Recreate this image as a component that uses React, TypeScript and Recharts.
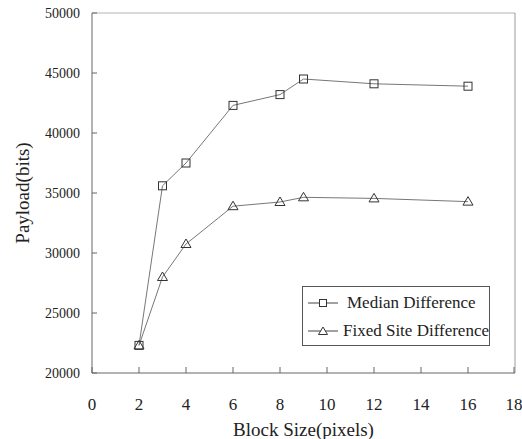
import { LineChart, Line, XAxis, YAxis, ReferenceLine } from "recharts";

const blockSizes = [2, 3, 4, 6, 8, 9, 12, 16];
const medianDiff = [22300, 35600, 37500, 42300, 43200, 44500, 44100, 43900];
const fixedSiteDiff = [22300, 28000, 30750, 33900, 34250, 34640, 34550, 34280];
const xTicks = [0, 2, 4, 6, 8, 10, 12, 14, 16, 18];
const yTicks = [20000, 25000, 30000, 35000, 40000, 45000, 50000];
const seriesNames = ["Median Difference", "Fixed Site Difference"];

const data = blockSizes.map((b, i) => ({
  size: b,
  median: medianDiff[i],
  fixed: fixedSiteDiff[i],
}));

const font = "'Liberation Serif', 'DejaVu Serif', serif";
const ink = "#333";

const SquareDot = (props: any) => {
  const { cx, cy, index } = props;
  if (cx == null || cy == null) return null;
  return <rect key={"sq" + index} x={cx - 4} y={cy - 4} width={8} height={8} fill="none" stroke={ink} strokeWidth={1} />;
};

const TriDot = (props: any) => {
  const { cx, cy, index } = props;
  if (cx == null || cy == null) return null;
  return (
    <polygon
      key={"tr" + index}
      points={`${cx},${cy - 5} ${cx - 5},${cy + 3.5} ${cx + 5},${cy + 3.5}`}
      fill="none"
      stroke={ink}
      strokeWidth={1}
    />
  );
};

const XTick = (props: any) => {
  const { x, y, payload } = props;
  return (
    <g>
      <line x1={x} y1={y} x2={x} y2={y - 6} stroke="#666" />
      <text x={x} y={y + 37} textAnchor="middle" fontFamily={font} fontSize={17} fill="#222">
        {payload.value}
      </text>
    </g>
  );
};

const YTick = (props: any) => {
  const { x, y, payload } = props;
  return (
    <g>
      <line x1={x} y1={y} x2={x + 5} y2={y} stroke="#666" />
      <text x={x - 12} y={y + 5} textAnchor="end" fontFamily={font} fontSize={14} fill="#222">
        {payload.value}
      </text>
    </g>
  );
};

const LegendBox = () => (
  <div
    style={{
      position: "absolute",
      left: 302,
      top: 286,
      border: "1px solid #555",
      background: "#fff",
      width: 188,
      height: 60,
      boxSizing: "border-box",
      fontFamily: font,
      fontSize: 17,
      color: "#222",
      padding: "2px 0 0 5px",
    }}
  >
    {seriesNames.map((name, i) => (
      <div key={name} style={{ display: "flex", alignItems: "center", height: 28 }}>
        <svg width={36} height={12} style={{ marginRight: 3 }}>
          <line x1={0} y1={6} x2={30} y2={6} stroke="#444" />
          {i === 0 ? (
            <rect x={11.5} y={2.5} width={7} height={7} fill="#fff" stroke={ink} />
          ) : (
            <polygon points="15,2 10.5,9.5 19.5,9.5" fill="#fff" stroke={ink} />
          )}
        </svg>
        <span style={{ whiteSpace: "nowrap" }}>{name}</span>
      </div>
    ))}
  </div>
);

export default function App() {
  return (
    <div style={{ position: "absolute", left: 0, top: 0, width: 522, height: 439, background: "#fff" }}>
      <LineChart width={522} height={439} data={data} margin={{ top: 13, right: 7, bottom: 0, left: 0 }}>
        <XAxis
          dataKey="size"
          type="number"
          domain={[0, 18]}
          ticks={xTicks}
          tick={<XTick />}
          tickSize={0}
          tickMargin={0}
          tickLine={false}
          height={66}
          stroke="#666"
          label={{ value: "Block Size(pixels)", position: "insideBottom", offset: 3, fontFamily: font, fontSize: 19, fill: "#222" }}
        />
        <YAxis
          type="number"
          domain={[20000, 50000]}
          ticks={yTicks}
          tick={<YTick />}
          tickSize={0}
          tickMargin={0}
          tickLine={false}
          width={92}
          stroke="#666"
          label={{ value: "Payload(bits)", angle: -90, position: "insideLeft", offset: 22, fontFamily: font, fontSize: 19, fill: "#222", style: { textAnchor: "middle" } }}
        />
        <ReferenceLine y={50000} stroke="#b5b5b5" />
        <ReferenceLine x={18} stroke="#999" />
        <Line dataKey="median" name={seriesNames[0]} stroke="#777" strokeWidth={1} dot={SquareDot} isAnimationActive={false} />
        <Line dataKey="fixed" name={seriesNames[1]} stroke="#777" strokeWidth={1} dot={TriDot} isAnimationActive={false} />
      </LineChart>
      <LegendBox />
    </div>
  );
}
